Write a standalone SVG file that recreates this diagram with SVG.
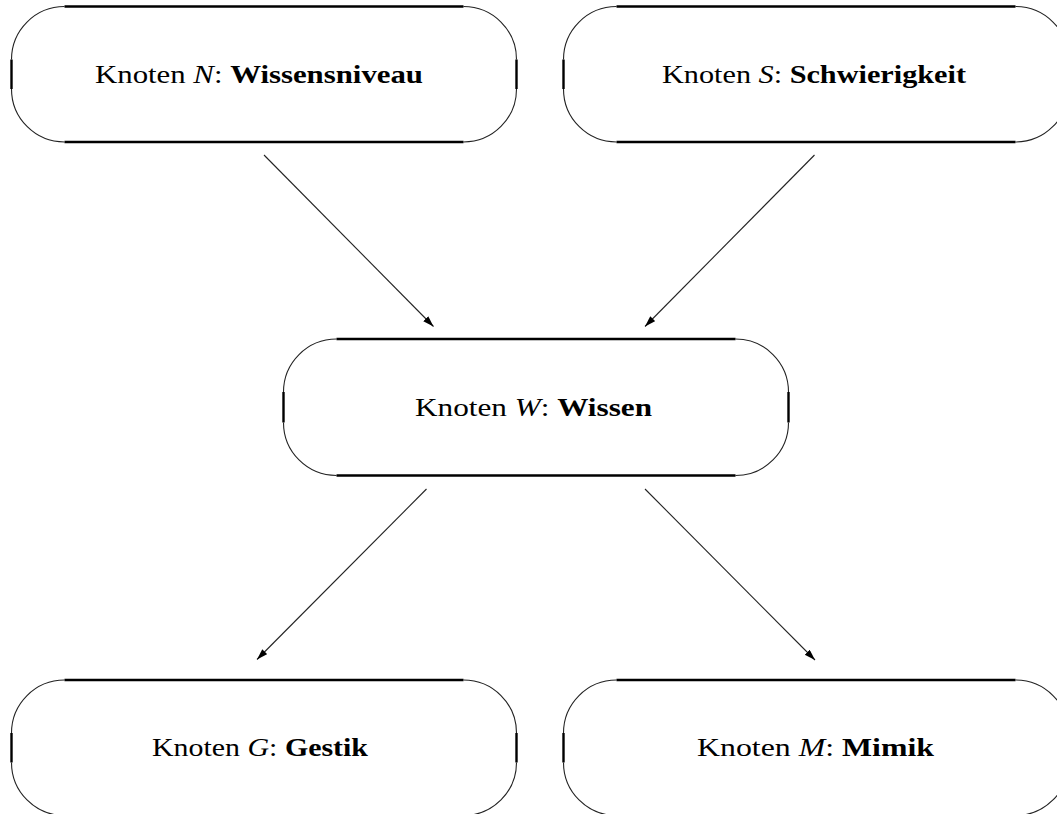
<svg xmlns="http://www.w3.org/2000/svg" width="1057" height="814" viewBox="0 0 1057 814">
<style>
.arc{fill:none;stroke:#222;stroke-width:1.1}
.side{fill:none;stroke:#000;stroke-width:2.4}
.lbl{font-family:"Liberation Serif","Times New Roman",serif;font-size:26px;fill:#000}
.it{font-style:italic}
.bd{font-weight:bold}
.edge{fill:none;stroke:#222;stroke-width:1.1}
</style>
<defs>
<marker id="ah" markerUnits="userSpaceOnUse" markerWidth="12" markerHeight="9" refX="11" refY="3.5" orient="auto">
<path d="M0,0 L11,3.5 L0,7 z" fill="#000"/>
</marker>
</defs>
<rect width="1057" height="814" fill="#fff"/>
<g id="node-N">
<path class="arc" d="M64.5,6.5 A53,53 0 0 0 11.5,59.5 M11.5,89 A53,53 0 0 0 64.5,142 M463.5,142 A53,53 0 0 0 516.5,89 M516.5,59.5 A53,53 0 0 0 463.5,6.5"/>
<path class="side" d="M64.5,6.5 H463.5 M64.5,142 H463.5 M11.5,59.5 V89 M516.5,59.5 V89"/>
<text class="lbl" x="259" y="83" text-anchor="middle" textLength="328" lengthAdjust="spacingAndGlyphs">Knoten <tspan class="it">N</tspan>: <tspan class="bd">Wissensniveau</tspan></text>
</g>
<g id="node-S">
<path class="arc" d="M616.5,6.5 A53,53 0 0 0 563.5,59.5 M563.5,89 A53,53 0 0 0 616.5,142 M1015.5,142 A53,53 0 0 0 1068.5,89 M1068.5,59.5 A53,53 0 0 0 1015.5,6.5"/>
<path class="side" d="M616.5,6.5 H1015.5 M616.5,142 H1015.5 M563.5,59.5 V89 M1068.5,59.5 V89"/>
<text class="lbl" x="814" y="83" text-anchor="middle" textLength="304" lengthAdjust="spacingAndGlyphs">Knoten <tspan class="it">S</tspan>: <tspan class="bd">Schwierigkeit</tspan></text>
</g>
<g id="node-W">
<path class="arc" d="M336.5,339 A53,53 0 0 0 283.5,392 M283.5,422.5 A53,53 0 0 0 336.5,475.5 M735.5,475.5 A53,53 0 0 0 788.5,422.5 M788.5,392 A53,53 0 0 0 735.5,339"/>
<path class="side" d="M336.5,339 H735.5 M336.5,475.5 H735.5 M283.5,392 V422.5 M788.5,392 V422.5"/>
<text class="lbl" x="533.5" y="416" text-anchor="middle" textLength="237" lengthAdjust="spacingAndGlyphs">Knoten <tspan class="it">W</tspan>: <tspan class="bd">Wissen</tspan></text>
</g>
<g id="node-G">
<path class="arc" d="M64.5,680 A53,53 0 0 0 11.5,733 M11.5,762.5 A53,53 0 0 0 64.5,815.5 M463.5,815.5 A53,53 0 0 0 516.5,762.5 M516.5,733 A53,53 0 0 0 463.5,680"/>
<path class="side" d="M64.5,680 H463.5 M64.5,815.5 H463.5 M11.5,733 V762.5 M516.5,733 V762.5"/>
<text class="lbl" x="260" y="756" text-anchor="middle" textLength="216" lengthAdjust="spacingAndGlyphs">Knoten <tspan class="it">G</tspan>: <tspan class="bd">Gestik</tspan></text>
</g>
<g id="node-M">
<path class="arc" d="M616.5,680 A53,53 0 0 0 563.5,733 M563.5,762.5 A53,53 0 0 0 616.5,815.5 M1015.5,815.5 A53,53 0 0 0 1068.5,762.5 M1068.5,733 A53,53 0 0 0 1015.5,680"/>
<path class="side" d="M616.5,680 H1015.5 M616.5,815.5 H1015.5 M563.5,733 V762.5 M1068.5,733 V762.5"/>
<text class="lbl" x="815.5" y="756" text-anchor="middle" textLength="237" lengthAdjust="spacingAndGlyphs">Knoten <tspan class="it">M</tspan>: <tspan class="bd">Mimik</tspan></text>
</g>
<g id="connectors">
<line class="edge" x1="264" y1="155" x2="433.5" y2="326.5" marker-end="url(#ah)"/>
<line class="edge" x1="814.5" y1="155" x2="645" y2="326.5" marker-end="url(#ah)"/>
<line class="edge" x1="426.5" y1="489" x2="257" y2="659.5" marker-end="url(#ah)"/>
<line class="edge" x1="645" y1="489" x2="815" y2="660" marker-end="url(#ah)"/>
</g>
</svg>
